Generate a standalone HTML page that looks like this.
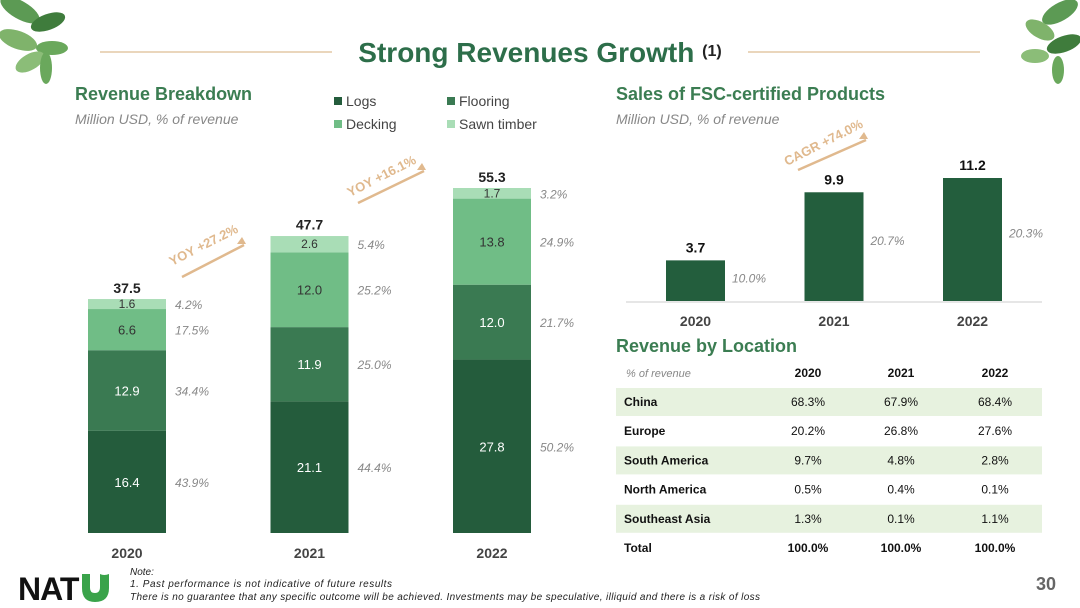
<!DOCTYPE html>
<html><head><meta charset="utf-8"><style>
body{margin:0;width:1080px;height:608px;background:#fff;position:relative;overflow:hidden;font-family:"Liberation Sans",sans-serif}
.abs{position:absolute}
</style></head><body>
<svg class="abs" style="left:0;top:0" width="1080" height="608">
<g fill="#5c9a54">
<ellipse cx="20" cy="10" rx="22" ry="9" transform="rotate(30 20 10)"/><ellipse cx="48" cy="22" rx="18" ry="8" fill="#3f7c3c" transform="rotate(-20 48 22)"/>
<ellipse cx="18" cy="40" rx="20" ry="9" fill="#7fb36b" transform="rotate(20 18 40)"/><ellipse cx="52" cy="48" rx="16" ry="7" fill="#6aa85c"/>
<ellipse cx="30" cy="62" rx="16" ry="8" fill="#8bbd78" transform="rotate(-30 30 62)"/><ellipse cx="46" cy="68" rx="6" ry="16" fill="#6aa85c"/>
</g>
<g fill="#5c9a54">
<ellipse cx="1060" cy="12" rx="20" ry="9" transform="rotate(-30 1060 12)"/><ellipse cx="1040" cy="30" rx="16" ry="8" fill="#7fb36b" transform="rotate(30 1040 30)"/>
<ellipse cx="1064" cy="44" rx="18" ry="8" fill="#3f7c3c" transform="rotate(-20 1064 44)"/><ellipse cx="1035" cy="56" rx="14" ry="7" fill="#8bbd78"/>
<ellipse cx="1058" cy="70" rx="6" ry="14" fill="#6aa85c"/>
</g>
<line x1="100" y1="52" x2="332" y2="52" stroke="#e3c9a6" stroke-width="1.5"/>
<line x1="748" y1="52" x2="980" y2="52" stroke="#e3c9a6" stroke-width="1.5"/>
<text x="540" y="62" text-anchor="middle" font-size="28" font-weight="bold" fill="#2d6e4a">Strong Revenues Growth <tspan font-size="16" dy="-6" fill="#222">(1)</tspan></text>
<text x="75" y="100" font-size="18" font-weight="bold" fill="#3b7d52">Revenue Breakdown</text>
<text x="75" y="124" font-size="14" font-style="italic" fill="#888">Million USD, % of revenue</text>
<text x="616" y="100" font-size="18" font-weight="bold" fill="#3b7d52">Sales of FSC-certified Products</text>
<text x="616" y="124" font-size="14" font-style="italic" fill="#888">Million USD, % of revenue</text>
<g font-size="14" fill="#444">
<rect x="334" y="97" width="8" height="8" fill="#245c3c"/><text x="346" y="106">Logs</text>
<rect x="447" y="97" width="8" height="8" fill="#3a7a52"/><text x="459" y="106">Flooring</text>
<rect x="334" y="120" width="8" height="8" fill="#70bd86"/><text x="346" y="129">Decking</text>
<rect x="447" y="120" width="8" height="8" fill="#a9ddb6"/><text x="459" y="129">Sawn timber</text>
</g>
<g id="left"></g>
<g id="right"></g>
<g fill="#e0b98e" font-size="13" font-weight="bold">
<text x="172" y="266" transform="rotate(-27 172 266)">YOY +27.2%</text>
<line x1="182" y1="277" x2="244" y2="245" stroke="#e0b98e" stroke-width="2.5"/><path d="M246 244 l-9 0 l5 -7z"/>
<text x="350" y="197" transform="rotate(-27 350 197)">YOY +16.1%</text>
<line x1="358" y1="203" x2="424" y2="171" stroke="#e0b98e" stroke-width="2.5"/><path d="M426 170 l-9 0 l5 -7z"/>
<text x="787" y="166" transform="rotate(-27 787 166)">CAGR +74.0%</text>
<line x1="798" y1="170" x2="866" y2="140" stroke="#e0b98e" stroke-width="2.5"/><path d="M868 139 l-9 0 l5 -7z"/>
</g>
<text x="616" y="352" font-size="18" font-weight="bold" fill="#3b7d52">Revenue by Location</text>
<g id="table"></g>
<g>
<text x="18" y="600" font-size="32" font-weight="900" fill="#111" letter-spacing="-1">NAT</text>
<path d="M82 574 h8 v14 q0 5 5 5 q5 0 5 -6 l0 -13 q4 2 9 0 v14 q0 14 -14 14 q-13 0 -13 -14z" fill="#3aa34a"/>
</g>
<text x="130" y="575" font-size="10" font-style="italic" fill="#222">Note:</text>
<text x="130" y="587" font-size="10" font-style="italic" fill="#222" textLength="262">1.    Past performance is not indicative of future results</text>
<text x="130" y="600" font-size="10" font-style="italic" fill="#222" textLength="630">There is no guarantee that any specific outcome will be achieved. Investments may be speculative, illiquid and there is a risk of loss</text>
<text x="1056" y="590" text-anchor="end" font-size="18" font-weight="bold" fill="#666">30</text>
</svg>
<script>
const years=["2020","2021","2022"];
const logs=[16.4,21.1,27.8];
const flooring=[12.9,11.9,12.0];
const decking=[6.6,12.0,13.8];
const sawn=[1.6,2.6,1.7];
const totals=[37.5,47.7,55.3];
const logsPct=["43.9%","44.4%","50.2%"];
const flooringPct=["34.4%","25.0%","21.7%"];
const deckingPct=["17.5%","25.2%","24.9%"];
const sawnPct=["4.2%","5.4%","3.2%"];
const fscValues=[3.7,9.9,11.2];
const fscPct=["10.0%","20.7%","20.3%"];
const locRows=["China","Europe","South America","North America","Southeast Asia","Total"];
const loc2020=["68.3%","20.2%","9.7%","0.5%","1.3%","100.0%"];
const loc2021=["67.9%","26.8%","4.8%","0.4%","0.1%","100.0%"];
const loc2022=["68.4%","27.6%","2.8%","0.1%","1.1%","100.0%"];

const NS="http://www.w3.org/2000/svg";
function mk(p,tag,a,txt){const e=document.createElementNS(NS,tag);for(const k in a)e.setAttribute(k,a[k]);if(txt!==undefined)e.textContent=txt;p.appendChild(e);return e;}
const L=document.getElementById('left');
const lBase=533,lScale=345/55.3;
const lx=i=>88+i*182.5, lw=78;
const ly=v=>lBase-v*lScale;
const series=[[logs,"#245c3c","#fff",logsPct,"logs"],[flooring,"#3a7a52","#fff",flooringPct,"flooring"],[decking,"#70bd86","#333",deckingPct,"decking"],[sawn,"#a9ddb6","#333",sawnPct,"sawn-timber"]];
years.forEach((y,i)=>{
  let cum=0;
  series.forEach(s=>{
    const v=s[0][i];const y0=ly(cum),y1=ly(cum+v);
    const r=mk(L,'rect',{x:lx(i),y:y1,width:lw,height:y0-y1,fill:s[1]});
    
    
    const mid=(y0+y1)/2;
    const t=mk(L,'text',{x:lx(i)+lw/2,y:mid+(v<3?4:5),'text-anchor':'middle','font-size':v<3?12:13,fill:s[2]},v.toFixed(1));
    
    
    const p=mk(L,'text',{x:lx(i)+lw+9,y:mid+5,'font-size':12,'font-style':'italic',fill:'#888'},s[3][i]);
    
    
    cum+=v;
  });
  const tt=mk(L,'text',{x:lx(i)+lw/2,y:ly(totals[i])-6,'text-anchor':'middle','font-size':14,'font-weight':'bold',fill:'#222'},totals[i].toFixed(1));
  
  
  const xl=mk(L,'text',{x:lx(i)+lw/2,y:558,'text-anchor':'middle','font-size':14,'font-weight':'bold',fill:'#444'},y);
  
  
});
const R=document.getElementById('right');
const rBase=301,rScale=123/11.2;
const rx=i=>666+i*138.5,rw=59;
const ry=v=>rBase-v*rScale;
mk(R,'line',{x1:626,y1:302,x2:1042,y2:302,stroke:'#ddd','stroke-width':1.5});
years.forEach((y,i)=>{
  const v=fscValues[i];
  const b=mk(R,'rect',{x:rx(i),y:ry(v),width:rw,height:rBase-ry(v),fill:'#235e3d'});
  
  
  const t=mk(R,'text',{x:rx(i)+rw/2,y:ry(v)-8,'text-anchor':'middle','font-size':14,'font-weight':'bold',fill:'#111'},v.toFixed(1));
  
  
  const p=mk(R,'text',{x:rx(i)+rw+7,y:ry(v)+(rBase-ry(v))*0.45+4,'font-size':12,'font-style':'italic',fill:'#888'},fscPct[i]);
  
  
  const xl=mk(R,'text',{x:rx(i)+rw/2,y:326,'text-anchor':'middle','font-size':14,'font-weight':'bold',fill:'#444'},y);
  
  
});
const T=document.getElementById('table');
const cx=[808,901,995];
const hy=377;
const h0=mk(T,'text',{x:626,y:hy,'font-size':11,'font-style':'italic',fill:'#888'},'% of revenue');


years.forEach((y,j)=>{const h=mk(T,'text',{x:cx[j],y:hy,'text-anchor':'middle','font-size':12,'font-weight':'bold',fill:'#111'},y);
  
  });
locRows.forEach((r,i)=>{
  const top=388+i*29.2;
  if(i%2===0&&i<5){const bg=mk(T,'rect',{x:616,y:top,width:426,height:28,fill:'#e7f2df'});
    
    }
  const yy=top+18;
  const n=mk(T,'text',{x:624,y:yy,'font-size':12,'font-weight':'bold',fill:'#111'},r);
  
  
  [loc2020,loc2021,loc2022].forEach((arr,j)=>{
    const c=mk(T,'text',{x:cx[j],y:yy,'text-anchor':'middle','font-size':12,fill:'#111','font-weight':i===5?'bold':'normal'},arr[i]);
    
    
  });
});
</script>
</body></html>
